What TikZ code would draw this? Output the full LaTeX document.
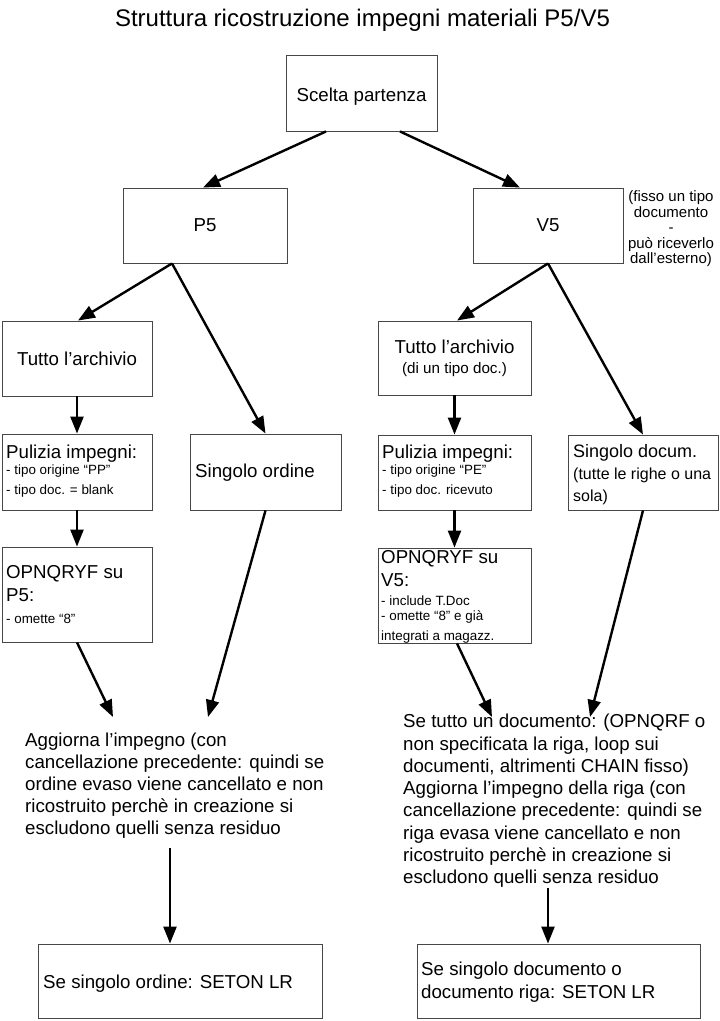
\documentclass[tikz,border=0pt]{standalone}
\usepackage{fontspec}
\setmainfont{Liberation Sans}
\usetikzlibrary{arrows.meta}

\tikzset{
  box/.style={draw=black!72, line width=0.9pt, rectangle, inner sep=0pt},
  conn/.style={line width=2.4pt, -{Triangle[length=17pt,width=13pt]}},
  big/.style={inner sep=0pt, font=\fontsize{18.7}{22.4}\selectfont},
  snug/.style={inner sep=0pt, font=\fontsize{16}{19}\selectfont},
  small/.style={inner sep=0pt, font=\fontsize{13.4}{16}\selectfont},
  mid/.style={inner sep=0pt, font=\fontsize{15.2}{18}\selectfont},
  note/.style={inner sep=0pt, align=center, font=\fontsize{15}{15.5}\selectfont},
  heading/.style={inner sep=0pt, anchor=base, font=\fontsize{24}{28}\selectfont},
  line/.style={anchor=base west},
}

\begin{document}
\begin{tikzpicture}[x=1pt,y=-1pt]
\useasboundingbox (0,0) rectangle (720,1021);

% title
\node[heading] (title) at (362.5,26) {Struttura ricostruzione impegni materiali P5/V5};

% boxes
\node[box, big, minimum width=151pt, minimum height=76pt] (scelta) at (361.5,93) {};
\node[big, anchor=base] (sceltaTxt) at (361.5,101) {Scelta partenza};
\node[box, big, minimum width=164pt, minimum height=75pt] (p5) at (205,225.5) {P5};
\node[box, big, minimum width=150pt, minimum height=75pt] (v5) at (548,225.5) {V5};
\node[note] (v5note) at (671,229) {(fisso un tipo\\documento\\-\\può riceverlo\\dall’esterno)};

\node[box, big, minimum width=150pt, minimum height=75pt] (tuttoL) at (77,358.5) {Tutto l’archivio};
\node[box, minimum width=153pt, minimum height=74pt] (tuttoR) at (454.5,358) {};
\node[big, anchor=base] (tuttoRa) at (454.5,353.7) {Tutto l’archivio};
\node[mid, anchor=base] (tuttoRb) at (454.5,373.5) {(di un tipo doc.)};

\node[box, minimum width=150pt, minimum height=76pt] (puliziaL) at (77,472) {};
\node[big, line] (pLa) at (6,458.7) {Pulizia impegni:};
\node[small, line] (pLb) at (6,474.8) {- tipo origine “PP"};
\node[small, line] (pLc) at (6,494.8) {- tipo doc. = blank};

\node[box, minimum width=151pt, minimum height=76pt] (singoloO) at (265.5,472) {};
\node[big, line] (sOa) at (195,477.7) {Singolo ordine};

\node[box, minimum width=153pt, minimum height=75pt] (puliziaR) at (454.5,472.5) {};
\node[big, line] (pRa) at (382,458.7) {Pulizia impegni:};
\node[small, line] (pRb) at (382,474.8) {- tipo origine “PE"};
\node[small, line] (pRc) at (382,494.8) {- tipo doc. ricevuto};

\node[box, minimum width=150pt, minimum height=75pt] (singoloD) at (643,472.5) {};
\node[big, line, font=\fontsize{18}{21}\selectfont] (sDa) at (573,457.7) {Singolo docum.};
\node[snug, line] (sDb) at (573,479.2) {(tutte le righe o una};
\node[snug, line] (sDc) at (573,501.2) {sola)};

\node[box, minimum width=150pt, minimum height=95pt] (opnL) at (77,594.5) {};
\node[big, line] (oLa) at (6,578.7) {OPNQRYF su};
\node[big, line] (oLb) at (6,601.7) {P5:};
\node[small, line] (oLc) at (6,623.8) {- omette “8"};

\node[box, minimum width=153pt, minimum height=95pt] (opnR) at (454.5,595.5) {};
\node[big, line] (oRa) at (381,563.7) {OPNQRYF su};
\node[big, line] (oRb) at (381,586.7) {V5:};
\node[small, line] (oRc) at (381,605.8) {- include T.Doc};
\node[small, line] (oRd) at (381,620.8) {- omette “8" e già};
\node[small, line] (oRe) at (381,640.8) {integrati a magazz.};

% update descriptions
\foreach \t [count=\i from 0] in {%
  Aggiorna l’impegno (con,
  cancellazione precedente: quindi se,
  ordine evaso viene cancellato e non,
  ricostruito perchè in creazione si,
  escludono quelli senza residuo}
  \node[big, line] (updL\i) at (25,746.7+22*\i) {\t};

\foreach \t [count=\i from 0] in {%
  Se tutto un documento: (OPNQRF o,
  {non specificata la riga, loop sui},
  {documenti, altrimenti CHAIN fisso)},
  Aggiorna l’impegno della riga (con,
  cancellazione precedente: quindi se,
  riga evasa viene cancellato e non,
  ricostruito perchè in creazione si,
  escludono quelli senza residuo}
  \node[big, line] (updR\i) at (403,727.7+22.3*\i) {\t};

% final boxes
\node[box, minimum width=284pt, minimum height=74pt] (boxL) at (180,981) {};
\node[big, line] (bLa) at (43,988.7) {Se singolo ordine: SETON LR};
\node[box, minimum width=283pt, minimum height=74pt] (boxR) at (558.5,981) {};
\node[big, line] (bRa) at (421,975.7) {Se singolo documento o};
\node[big, line] (bRb) at (421,998.7) {documento riga: SETON LR};

% free ends of the connectors
\coordinate (inL1) at (113,717);
\coordinate (inL2) at (208,717);
\coordinate (inR1) at (492,717);
\coordinate (inR2) at (590,717);
\coordinate (outL) at (170,848);
\coordinate (outR) at (548,888);

% connectors
\draw[conn] ([xshift=-35.5pt]scelta.south) -- ([xshift=-2pt]p5.north);
\draw[conn] ([xshift=38.5pt]scelta.south) -- ([xshift=-28pt]v5.north);
\draw[conn] ([xshift=-33pt]p5.south) -- ([xshift=1pt]tuttoL.north);
\draw[conn] ([xshift=-33pt]p5.south) -- (singoloO.north);
\draw[conn] (v5.south) -- ([xshift=2.5pt]tuttoR.north);
\draw[conn] (v5.south) -- (singoloD.north);
\draw[conn] (tuttoL.south) -- (puliziaL.north);
\draw[conn] (puliziaL.south) -- (opnL.north);
\draw[conn] (tuttoR.south) -- (puliziaR.north);
\draw[conn] (puliziaR.south) -- (opnR.north);
\draw[conn] (opnL.south) -- (inL1);
\draw[conn] (singoloO.south) -- (inL2);
\draw[conn] ([xshift=2.5pt]opnR.south) -- (inR1);
\draw[conn] (singoloD.south) -- (inR2);
\draw[conn] (outL) -- (outL |- boxL.north);
\draw[conn] (outR) -- (outR |- boxR.north);
\end{tikzpicture}
\end{document}
